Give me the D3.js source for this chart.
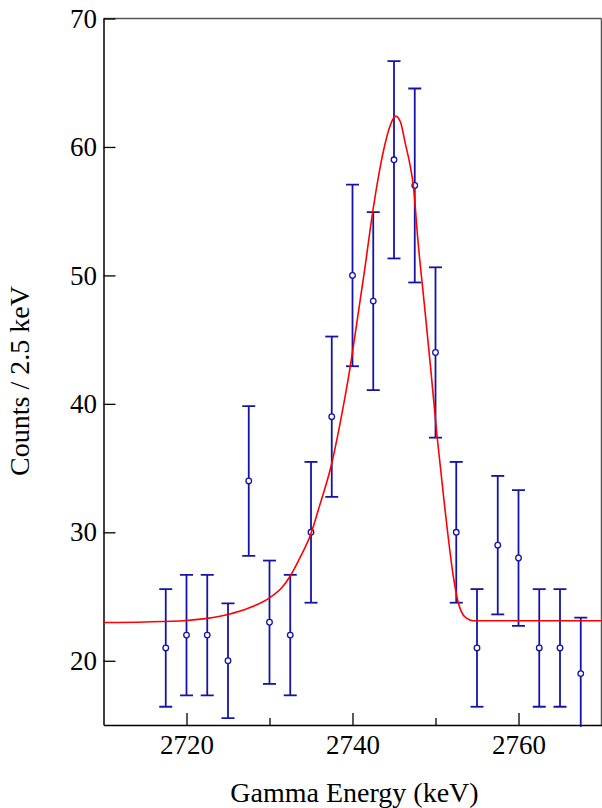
<!DOCTYPE html>
<html>
<head>
<meta charset="utf-8">
<script src="https://cdn.jsdelivr.net/npm/d3@7"></script>
<style>
  html, body { margin: 0; padding: 0; background: #fff; }
  svg { display: block; }
  text { font-family: "Liberation Serif", "DejaVu Serif", serif; fill: #000; }
</style>
</head>
<body>
<div id="chart"></div>
<script>
// ---- data ----
const energies = [2717.5, 2720, 2722.5, 2725, 2727.5, 2730, 2732.5, 2735, 2737.5, 2740, 2742.5,
                  2745, 2747.5, 2750, 2752.5, 2755, 2757.5, 2760, 2762.5, 2765, 2767.5];
const counts   = [21, 22, 22, 20, 34, 23, 22, 30, 39, 50, 48,
                  59, 57, 44, 30, 21, 29, 28, 21, 21, 19];
const errors   = [4.58, 4.69, 4.69, 4.47, 5.83, 4.80, 4.69, 5.48, 6.24, 7.07, 6.93,
                  7.68, 7.55, 6.63, 5.48, 4.58, 5.39, 5.29, 4.58, 4.58, 4.36];

// fit curve
const fitE = [2710, 2715, 2720, 2722.5, 2725, 2727.5, 2730, 2731.5, 2732.5, 2733.5, 2735, 2736,
              2737.4, 2738.8, 2739.6, 2740.5, 2741.5, 2742.4, 2743.1, 2743.8, 2744.5, 2745.2,
              2745.8, 2746.35, 2746.9, 2747.35, 2747.87, 2748.6, 2749.4, 2750.2, 2751.15, 2752.15,
              2752.75, 2753.3, 2753.74, 2754.5, 2760, 2770];
const fitC = [22.98, 23.02, 23.14, 23.3, 23.6, 24.1, 24.9, 25.7, 26.6, 27.8, 29.9, 32.0,
              35.1, 39.5, 42.4, 46.2, 50.6, 54.8, 57.6, 59.9, 61.6, 62.4,
              61.9, 60.3, 58.7, 56.9, 52.8, 48.1, 42.9, 37.4, 31.75, 26.56,
              24.5, 23.6, 23.32, 23.12, 23.12, 23.12];

const xMajorTicks = [2720, 2740, 2760];
const xMinorTicks = [2730, 2750];
const yTicks = [20, 30, 40, 50, 60, 70];
const xDomain = [2710, 2770];
const yDomain = [15, 70];
const xTitle = "Gamma Energy (keV)";
const yTitle = "Counts / 2.5 keV";

// ---- layout ----
const W = 602, H = 808;
const L = 103.5, R = 601.5, T = 18.5, B = 725;
const dataColor = "#1414a8";
const serif = '"Liberation Serif", "DejaVu Serif", serif';

const svg = d3.select("#chart").append("svg").attr("width", W).attr("height", H);
const x = d3.scaleLinear().domain(xDomain).range([L, R]);
const y = d3.scaleLinear().domain(yDomain).range([B, T]);

svg.append("defs").append("clipPath").attr("id", "clip")
  .append("rect").attr("x", L).attr("y", T).attr("width", R - L).attr("height", B - T + 2);

// frame: top & right in gray
svg.append("line").attr("x1", L).attr("x2", R).attr("y1", T).attr("y2", T)
  .attr("stroke", "#555").attr("stroke-width", 1.5);
svg.append("line").attr("x1", R).attr("x2", R).attr("y1", T).attr("y2", B)
  .attr("stroke", "#555").attr("stroke-width", 1.5);

// axes
const yAxis = d3.axisLeft(y).tickValues(yTicks).tickSizeInner(-12).tickSizeOuter(0).tickPadding(6.5);
const gy = svg.append("g").attr("transform", `translate(${L},0)`).call(yAxis);

const xAxis = d3.axisBottom(x).tickValues(xMajorTicks).tickSizeInner(-12).tickSizeOuter(0).tickPadding(10)
  .tickFormat(d3.format("d"));
const gx = svg.append("g").attr("transform", `translate(0,${B})`).call(xAxis);

const xMinor = d3.axisBottom(x).tickValues(xMinorTicks).tickSizeInner(-7).tickSizeOuter(0).tickFormat("");
const gxm = svg.append("g").attr("transform", `translate(0,${B})`).call(xMinor);
gxm.select(".domain").remove();

[gy, gx, gxm].forEach(g => {
  g.attr("font-family", null).attr("font-size", null);
  g.selectAll("text").style("font-family", serif).style("font-size", "27px").attr("fill", "#000");
  g.selectAll(".domain").attr("stroke", "#000").attr("stroke-width", 1.5);
  g.selectAll(".tick line").attr("stroke", "#000").attr("stroke-width", 1.3);
});

// titles
svg.append("text").attr("x", (L + R) / 2 + 2).attr("y", 802)
  .attr("text-anchor", "middle").style("font-size", "28px").text(xTitle);
svg.append("text").attr("transform", `translate(29,381) rotate(-90)`)
  .attr("text-anchor", "middle").style("font-size", "28px").text(yTitle);

// data
const plot = svg.append("g").attr("clip-path", "url(#clip)");
const pts = energies.map((e, i) => ({ e, c: counts[i], s: errors[i] }));

plot.selectAll("line.bar").data(pts).enter().append("line")
  .attr("x1", d => x(d.e)).attr("x2", d => x(d.e))
  .attr("y1", d => y(d.c + d.s)).attr("y2", d => y(d.c - d.s))
  .attr("stroke", dataColor).attr("stroke-width", 1.8);

const caps = [];
pts.forEach(d => {
  [d.c + d.s, d.c - d.s].forEach(v => { if (v >= yDomain[0] && v <= yDomain[1]) caps.push({ e: d.e, v }); });
});
plot.selectAll("line.cap").data(caps).enter().append("line")
  .attr("x1", d => x(d.e) - 6.5).attr("x2", d => x(d.e) + 6.5)
  .attr("y1", d => y(d.v)).attr("y2", d => y(d.v))
  .attr("stroke", dataColor).attr("stroke-width", 1.8);

plot.selectAll("circle").data(pts).enter().append("circle")
  .attr("cx", d => x(d.e)).attr("cy", d => y(d.c)).attr("r", 2.8)
  .attr("fill", "#fff").attr("stroke", dataColor).attr("stroke-width", 1.3);

// fit curve
const fit = fitE.map((e, i) => [e, fitC[i]]);
plot.append("path").datum(fit)
  .attr("d", d3.line().x(d => x(d[0])).y(d => y(d[1])).curve(d3.curveMonotoneX))
  .attr("fill", "none").attr("stroke", "#ff0000").attr("stroke-width", 1.6);
</script>
</body>
</html>
